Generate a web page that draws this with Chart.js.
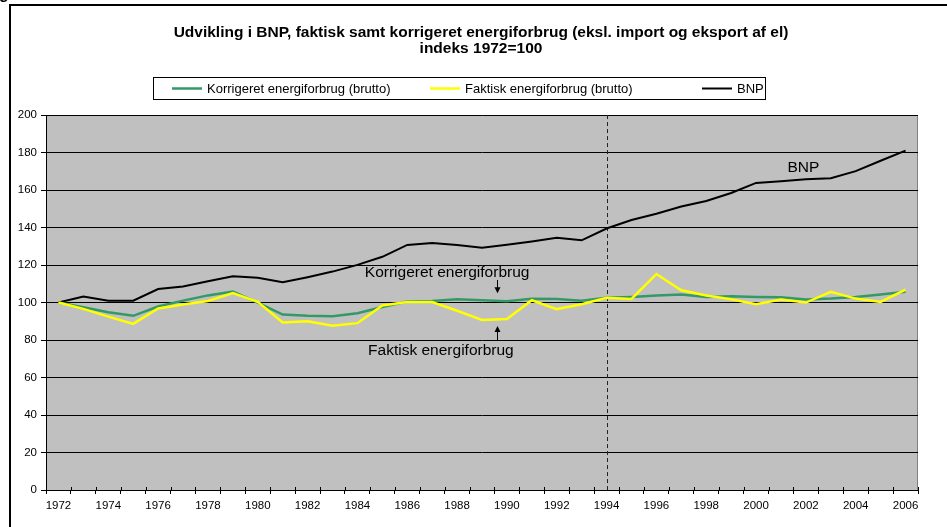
<!DOCTYPE html>
<html><head><meta charset="utf-8">
<script src="https://cdn.jsdelivr.net/npm/chart.js@4.4.1/dist/chart.umd.min.js"></script>
<style>html,body{margin:0;padding:0;background:#fff;overflow:hidden}#wrap{position:relative;width:947px;height:527px}</style>
</head><body><div id="wrap"><canvas id="c" width="947" height="527"></canvas></div>
<script>
const years = ['1972','1973','1974','1975','1976','1977','1978','1979','1980','1981','1982','1983','1984','1985','1986','1987','1988','1989','1990','1991','1992','1993','1994','1995','1996','1997','1998','1999','2000','2001','2002','2003','2004','2005','2006'];
const korrigeret = [100,97.5,94.8,92.9,97.9,101,103.8,105.9,100,93.6,93,92.7,94.3,97.6,100.5,100.8,101.8,101.2,100.7,102,101.9,100.9,102.5,103,103.7,104.3,103,103.4,103,102.8,101.6,102.1,103,104.3,105.7];
const faktisk = [100,96.6,92.5,88.6,96.8,99,100.8,105,100.4,89.4,90,87.6,89,98.4,100.3,100.3,95.6,90.7,91.2,101.2,96.5,99.1,102.5,101.9,115.2,106.5,103.8,101.8,99.1,101.6,100,105.7,102.1,100.3,106.9];
const bnp = [100,103.2,101,101,107.2,108.5,111.3,114,113.2,110.8,113.5,116.5,120.1,124.4,130.7,131.8,130.7,129.2,130.8,132.6,134.5,133.2,139.5,144,147.4,151.2,154.2,158.4,163.8,164.7,165.8,166.3,170.1,175.6,181];
const seriesNames = ['Korrigeret energiforbrug (brutto)','Faktisk energiforbrug (brutto)','BNP'];
const titleLines = ['Udvikling i BNP, faktisk samt korrigeret energiforbrug (eksl. import og eksport af el)','indeks 1972=100'];
const markerYear = '1994';

const FONT = "'Liberation Sans', Arial, Helvetica, sans-serif";

const decor = {
  id: 'decor',
  beforeDraw(chart) {
    const ctx = chart.ctx, a = chart.chartArea;
    ctx.save();
    ctx.fillStyle = '#fff';
    ctx.fillRect(0, 0, chart.width, chart.height);
    ctx.strokeStyle = '#000';
    ctx.lineWidth = 2;
    ctx.beginPath();
    ctx.moveTo(10, chart.height); ctx.lineTo(10, 5); ctx.lineTo(chart.width, 5);
    ctx.stroke();
    ctx.fillStyle = '#000';
    ctx.font = 'bold 16px ' + FONT;
    ctx.textBaseline = 'alphabetic';
    ctx.fillText('g.', -1, -1);
    ctx.fillStyle = '#C0C0C0';
    ctx.fillRect(a.left, a.top, a.right - a.left, a.bottom - a.top);
    ctx.strokeStyle = '#808080';
    ctx.lineWidth = 1;
    ctx.strokeRect(a.left + 0.5, a.top + 0.5, a.right - a.left - 1, a.bottom - a.top);
    ctx.restore();
  },
  beforeDatasetsDraw(chart) {
    const ctx = chart.ctx, a = chart.chartArea, x = chart.scales.x;
    const px = Math.round(x.getPixelForValue(years.indexOf(markerYear))) + 0.5;
    ctx.save();
    ctx.strokeStyle = '#222';
    ctx.lineWidth = 1;
    ctx.setLineDash([4, 3]);
    ctx.beginPath();
    ctx.moveTo(px, a.top); ctx.lineTo(px, a.bottom);
    ctx.stroke();
    ctx.restore();
  },
  afterDraw(chart) {
    const ctx = chart.ctx, a = chart.chartArea, x = chart.scales.x, y = chart.scales.y;
    ctx.save();
    ctx.strokeStyle = '#000'; ctx.lineWidth = 1;
    const step = x.getPixelForValue(1) - x.getPixelForValue(0);
    for (let i = 0; i <= years.length; i++) {
      const px = Math.round(x.getPixelForValue(i) - step / 2) + 0.5;
      ctx.beginPath(); ctx.moveTo(px, a.bottom - 3); ctx.lineTo(px, a.bottom); ctx.stroke();
    }
    // legend box
    const lx = 153, ly = 77, lw = 612, lh = 22;
    ctx.fillStyle = '#fff';
    ctx.fillRect(lx, ly, lw, lh);
    ctx.strokeStyle = '#000';
    ctx.strokeRect(lx + 0.5, ly + 0.5, lw, lh);
    const starts = [172, 430, 702];
    ctx.font = '13px ' + FONT;
    ctx.textBaseline = 'middle';
    chart.data.datasets.forEach((ds, i) => {
      const cy = ly + lh / 2 + 0.5;
      ctx.strokeStyle = ds.borderColor;
      ctx.lineWidth = ds.borderWidth;
      ctx.beginPath(); ctx.moveTo(starts[i], cy); ctx.lineTo(starts[i] + 30, cy); ctx.stroke();
      ctx.fillStyle = '#000';
      ctx.fillText(ds.label, starts[i] + 35, cy + 0.5);
    });
    // annotations
    ctx.font = '15.5px ' + FONT;
    ctx.fillStyle = '#000';
    ctx.textAlign = 'center';
    ctx.textBaseline = 'middle';
    const arrowX = Math.round(x.getPixelForValue(17.6)) + 0.5;
    ctx.fillText('Korrigeret energiforbrug', x.getPixelForValue(15.6), y.getPixelForValue(116));
    ctx.fillText('Faktisk energiforbrug', x.getPixelForValue(15.35), y.getPixelForValue(74.5));
    ctx.fillText('BNP', x.getPixelForValue(29.9), y.getPixelForValue(172));
    ctx.strokeStyle = '#000'; ctx.lineWidth = 1;
    let t = y.getPixelForValue(112), b = y.getPixelForValue(105);
    ctx.beginPath(); ctx.moveTo(arrowX, t); ctx.lineTo(arrowX, b - 4); ctx.stroke();
    ctx.beginPath(); ctx.moveTo(arrowX - 3, b - 6); ctx.lineTo(arrowX + 3, b - 6); ctx.lineTo(arrowX, b); ctx.closePath(); ctx.fill();
    t = y.getPixelForValue(87.5); b = y.getPixelForValue(80);
    ctx.beginPath(); ctx.moveTo(arrowX, t + 4); ctx.lineTo(arrowX, b); ctx.stroke();
    ctx.beginPath(); ctx.moveTo(arrowX - 3, t + 6); ctx.lineTo(arrowX + 3, t + 6); ctx.lineTo(arrowX, t); ctx.closePath(); ctx.fill();
    ctx.restore();
  }
};

new Chart(document.getElementById('c'), {
  type: 'line',
  data: {
    labels: years,
    datasets: [
      { label: seriesNames[0], data: korrigeret, borderColor: '#339966', borderWidth: 2.5, order: 1 },
      { label: seriesNames[1], data: faktisk, borderColor: '#FFFF00', borderWidth: 2.5, order: 0 },
      { label: seriesNames[2], data: bnp, borderColor: '#000000', borderWidth: 2, order: 2 }
    ]
  },
  options: {
    responsive: false,
    animation: false,
    devicePixelRatio: 1,
    elements: { point: { radius: 0, hoverRadius: 0 }, line: { tension: 0, fill: false } },
    layout: { padding: { left: 15, right: 0, top: 0, bottom: 7 } },
    plugins: {
      legend: { display: false },
      tooltip: { enabled: false },
      title: {
        display: true,
        text: titleLines,
        color: '#000',
        font: { family: FONT, size: 15.5, weight: 'bold', lineHeight: 1.05 },
        padding: { top: 24.5, bottom: 58 }
      }
    },
    scales: {
      x: {
        type: 'category',
        offset: true,
        grid: { display: true, drawOnChartArea: false, drawTicks: true, tickLength: 4, offset: true, color: '#000' },
        border: { display: true, color: '#000', width: 1 },
        ticks: {
          autoSkip: false, maxRotation: 0, minRotation: 0, padding: 5,
          color: '#000', font: { family: FONT, size: 11.5 },
          callback: (v, i) => (i % 2 === 0 ? years[i] : '')
        },
        afterFit: s => { s.height = 30; }
      },
      y: {
        min: 0, max: 200,
        ticks: { stepSize: 20, color: '#000', font: { family: FONT, size: 11.5 }, padding: 4 },
        grid: { color: '#000', lineWidth: 1, tickLength: 5, drawTicks: true },
        border: { display: true, color: '#000', width: 1 },
        afterFit: s => { s.width = 31; }
      },
      yR: {
        type: 'linear', position: 'right', display: true,
        grid: { display: false, drawTicks: false },
        border: { display: false },
        ticks: { display: false },
        afterFit: s => { s.width = 29; }
      }
    }
  },
  plugins: [decor]
});
</script>
</body></html>
